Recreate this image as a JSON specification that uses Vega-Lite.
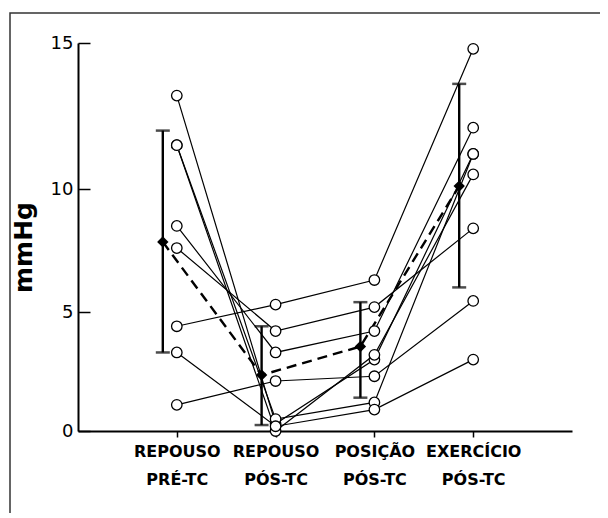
{
  "$schema": "https://vega.github.io/schema/vega-lite/v6.json",
  "width": 590,
  "height": 500,
  "autosize": {"type": "none"},
  "padding": {"left": 10, "top": 13, "right": 0, "bottom": 0},
  "background": "white",
  "config": {
    "font": "DejaVu Sans",
    "view": {"stroke": "#333333", "strokeWidth": 1.5, "strokeDash": [590, 1090, 500]}
  },
  "datasets": {
    "sujeitos": [
      {"sujeito": "S1", "fase": "REPOUSO PRÉ-TC", "valor": 13.2},
      {"sujeito": "S1", "fase": "REPOUSO PÓS-TC", "valor": 0.3},
      {"sujeito": "S1", "fase": "POSIÇÃO PÓS-TC", "valor": 3.0},
      {"sujeito": "S1", "fase": "EXERCÍCIO PÓS-TC", "valor": 11.2},
      {"sujeito": "S2", "fase": "REPOUSO PRÉ-TC", "valor": 11.5},
      {"sujeito": "S2", "fase": "REPOUSO PÓS-TC", "valor": 0.0},
      {"sujeito": "S2", "fase": "POSIÇÃO PÓS-TC", "valor": 3.2},
      {"sujeito": "S2", "fase": "EXERCÍCIO PÓS-TC", "valor": 10.5},
      {"sujeito": "S3", "fase": "REPOUSO PRÉ-TC", "valor": 11.5},
      {"sujeito": "S3", "fase": "REPOUSO PÓS-TC", "valor": 0.5},
      {"sujeito": "S3", "fase": "POSIÇÃO PÓS-TC", "valor": 1.2},
      {"sujeito": "S3", "fase": "EXERCÍCIO PÓS-TC", "valor": 11.2},
      {"sujeito": "S4", "fase": "REPOUSO PRÉ-TC", "valor": 8.5},
      {"sujeito": "S4", "fase": "REPOUSO PÓS-TC", "valor": 3.3},
      {"sujeito": "S4", "fase": "POSIÇÃO PÓS-TC", "valor": 4.2},
      {"sujeito": "S4", "fase": "EXERCÍCIO PÓS-TC", "valor": 12.1},
      {"sujeito": "S5", "fase": "REPOUSO PRÉ-TC", "valor": 7.6},
      {"sujeito": "S5", "fase": "REPOUSO PÓS-TC", "valor": 4.2},
      {"sujeito": "S5", "fase": "POSIÇÃO PÓS-TC", "valor": 5.2},
      {"sujeito": "S5", "fase": "EXERCÍCIO PÓS-TC", "valor": 8.4},
      {"sujeito": "S6", "fase": "REPOUSO PRÉ-TC", "valor": 4.4},
      {"sujeito": "S6", "fase": "REPOUSO PÓS-TC", "valor": 5.3},
      {"sujeito": "S6", "fase": "POSIÇÃO PÓS-TC", "valor": 6.3},
      {"sujeito": "S6", "fase": "EXERCÍCIO PÓS-TC", "valor": 14.8},
      {"sujeito": "S7", "fase": "REPOUSO PRÉ-TC", "valor": 3.3},
      {"sujeito": "S7", "fase": "REPOUSO PÓS-TC", "valor": 0.2},
      {"sujeito": "S7", "fase": "POSIÇÃO PÓS-TC", "valor": 0.9},
      {"sujeito": "S7", "fase": "EXERCÍCIO PÓS-TC", "valor": 3.0},
      {"sujeito": "S8", "fase": "REPOUSO PRÉ-TC", "valor": 1.1},
      {"sujeito": "S8", "fase": "REPOUSO PÓS-TC", "valor": 2.1},
      {"sujeito": "S8", "fase": "POSIÇÃO PÓS-TC", "valor": 2.3},
      {"sujeito": "S8", "fase": "EXERCÍCIO PÓS-TC", "valor": 5.45}
    ],
    "medias": [
      {"fase": "REPOUSO PRÉ-TC", "valor": 7.85, "lo": 3.3, "hi": 12.0},
      {"fase": "REPOUSO PÓS-TC", "valor": 2.35, "lo": 0.25, "hi": 4.4},
      {"fase": "POSIÇÃO PÓS-TC", "valor": 3.55, "lo": 1.4, "hi": 5.4},
      {"fase": "EXERCÍCIO PÓS-TC", "valor": 10.1, "lo": 6.0, "hi": 13.6}
    ]
  },
  "encoding": {
    "x": {
      "field": "fase",
      "type": "nominal",
      "scale": {
        "type": "point",
        "domain": ["", "REPOUSO PRÉ-TC", "REPOUSO PÓS-TC", "POSIÇÃO PÓS-TC", "EXERCÍCIO PÓS-TC", " "],
        "range": [68, 562],
        "padding": 0
      },
      "axis": {
        "values": ["REPOUSO PRÉ-TC", "REPOUSO PÓS-TC", "POSIÇÃO PÓS-TC", "EXERCÍCIO PÓS-TC"],
        "orient": "bottom",
        "offset": -82,
        "title": null,
        "grid": false,
        "domainColor": "black",
        "domainWidth": 2,
        "tickColor": "black",
        "tickWidth": 1.5,
        "tickSize": 6,
        "labelPadding": 6,
        "labelAngle": 0,
        "labelFontSize": 16,
        "labelFontWeight": "bold",
        "labelColor": "black",
        "labelExpr": "split(datum.label, ' ')",
        "labelLineHeight": 28,
        "labelBaseline": "top",
        "labelOverlap": false,
        "labelBound": false,
        "labelFlush": false
      }
    },
    "y": {
      "field": "valor",
      "type": "quantitative",
      "title": "mmHg",
      "scale": {"domain": [0, 5, 10, 15], "range": [418, 299, 176, 30], "nice": false, "zero": false},
      "axis": {
        "values": [0, 5, 10, 15],
        "offset": -68,
        "grid": false,
        "domainColor": "black",
        "domainWidth": 2,
        "tickColor": "black",
        "tickWidth": 1.5,
        "tickSize": -12,
        "labelPadding": 17,
        "labelFontSize": 18,
        "labelColor": "black",
        "title": "mmHg",
        "titleFontSize": 25,
        "titleFontWeight": "bold",
        "titleColor": "black",
        "titleAngle": -90,
        "titleX": -55,
        "titleY": 234,
        "titleAlign": "center",
        "titleBaseline": "middle"
      }
    }
  },
  "layer": [
    {
      "data": {"name": "sujeitos"},
      "mark": {"type": "line", "color": "black", "strokeWidth": 1.2},
      "encoding": {"detail": {"field": "sujeito", "type": "nominal"}}
    },
    {
      "data": {"name": "medias"},
      "mark": {"type": "line", "color": "black", "strokeWidth": 2.4, "strokeDash": [10, 6], "xOffset": -14}
    },
    {
      "data": {"name": "medias"},
      "mark": {"type": "rule", "color": "black", "strokeWidth": 2.4, "xOffset": -14},
      "encoding": {
        "y": {"field": "lo", "type": "quantitative", "title": "mmHg"},
        "y2": {"field": "hi"}
      }
    },
    {
      "data": {"name": "medias"},
      "mark": {"type": "tick", "color": "black", "thickness": 2.5, "size": 14, "xOffset": -14},
      "encoding": {"y": {"field": "lo", "type": "quantitative", "title": "mmHg"}}
    },
    {
      "data": {"name": "medias"},
      "mark": {"type": "tick", "color": "black", "thickness": 2.5, "size": 14, "xOffset": -14},
      "encoding": {"y": {"field": "hi", "type": "quantitative", "title": "mmHg"}}
    },
    {
      "data": {"name": "sujeitos"},
      "mark": {"type": "point", "shape": "circle", "filled": true, "fill": "white", "stroke": "black", "strokeWidth": 1.3, "size": 110, "opacity": 1}
    },
    {
      "data": {"name": "medias"},
      "mark": {"type": "point", "shape": "diamond", "filled": true, "color": "black", "size": 130, "opacity": 1, "xOffset": -14}
    }
  ]
}
